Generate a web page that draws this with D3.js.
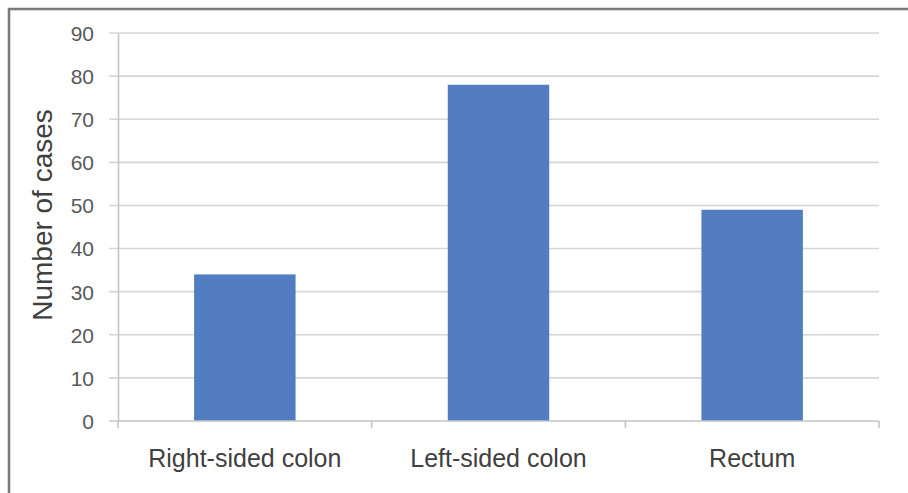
<!DOCTYPE html>
<html>
<head>
<meta charset="utf-8">
<script src="https://cdn.jsdelivr.net/npm/d3@7"></script>
<style>
  html, body { margin: 0; padding: 0; background: #fff; }
  svg { display: block; }
  text { font-family: "Liberation Sans", Arial, sans-serif; }
</style>
</head>
<body>
<svg id="chart" width="908" height="493"></svg>
<script>
// Case counts by tumour location
const categories = ["Right-sided colon", "Left-sided colon", "Rectum"];
const cases = [34, 78, 49];
const yTicks = [0, 10, 20, 30, 40, 50, 60, 70, 80, 90];
const yTitle = "Number of cases";

const svg = d3.select("#chart");
const W = 908, H = 493;
const plot = { left: 118, right: 879, top: 33, bottom: 421 };

// Outer frame (top and left edges visible)
svg.append("path")
  .attr("d", `M9,${H} L9,9 L${W},9`)
  .attr("fill", "none")
  .attr("stroke", "#7a7a7a")
  .attr("stroke-width", 2.6);

const x = d3.scaleBand()
  .domain(categories)
  .range([plot.left, plot.right])
  .paddingInner(0.6)
  .paddingOuter(0.3);

const y = d3.scaleLinear()
  .domain([0, 90])
  .range([plot.bottom, plot.top]);

// Horizontal gridlines with short ticks left of the axis
svg.append("g")
  .selectAll("line")
  .data(yTicks.filter(d => d > 0))
  .join("line")
  .attr("x1", plot.left - 9)
  .attr("x2", plot.right)
  .attr("y1", d => y(d))
  .attr("y2", d => y(d))
  .attr("stroke", "#d6d6d6")
  .attr("stroke-width", 1.6);

// Y axis
const yAxis = d3.axisLeft(y).tickValues(yTicks).tickSize(0).tickPadding(24);
const gy = svg.append("g")
  .attr("transform", `translate(${plot.left},0)`)
  .call(yAxis);
gy.select(".domain").attr("stroke", "#c4c4c4").attr("stroke-width", 1.6);
gy.selectAll("text")
  .attr("fill", "#595959")
  .style("font-size", "21px")
  .attr("dy", "0.35em");

// Bars
svg.append("g")
  .selectAll("rect")
  .data(categories.map((c, i) => ({ c, v: cases[i] })))
  .join("rect")
  .attr("x", d => x(d.c))
  .attr("width", x.bandwidth())
  .attr("y", d => y(d.v))
  .attr("height", d => y(0) - y(d.v))
  .attr("fill", "#527dc3");

// X axis baseline with category boundary ticks
const step = x.step();
const bounds = d3.range(categories.length + 1).map(i => plot.left + i * (plot.right - plot.left) / categories.length);
svg.append("line")
  .attr("x1", plot.left - 9)
  .attr("x2", plot.right)
  .attr("y1", y(0))
  .attr("y2", y(0))
  .attr("stroke", "#c4c4c4")
  .attr("stroke-width", 1.6);
svg.append("g")
  .selectAll("line")
  .data(bounds)
  .join("line")
  .attr("x1", d => d)
  .attr("x2", d => d)
  .attr("y1", y(0))
  .attr("y2", y(0) + 7)
  .attr("stroke", "#c4c4c4")
  .attr("stroke-width", 1.6);

// Category labels
svg.append("g")
  .selectAll("text")
  .data(categories)
  .join("text")
  .attr("x", d => x(d) + x.bandwidth() / 2)
  .attr("y", 467)
  .attr("text-anchor", "middle")
  .attr("fill", "#404040")
  .style("font-size", "25px")
  .text(d => d);

// Y axis title
svg.append("text")
  .attr("transform", `translate(52,215) rotate(-90)`)
  .attr("text-anchor", "middle")
  .attr("fill", "#404040")
  .style("font-size", "28px")
  .text(yTitle);
</script>
</body>
</html>
